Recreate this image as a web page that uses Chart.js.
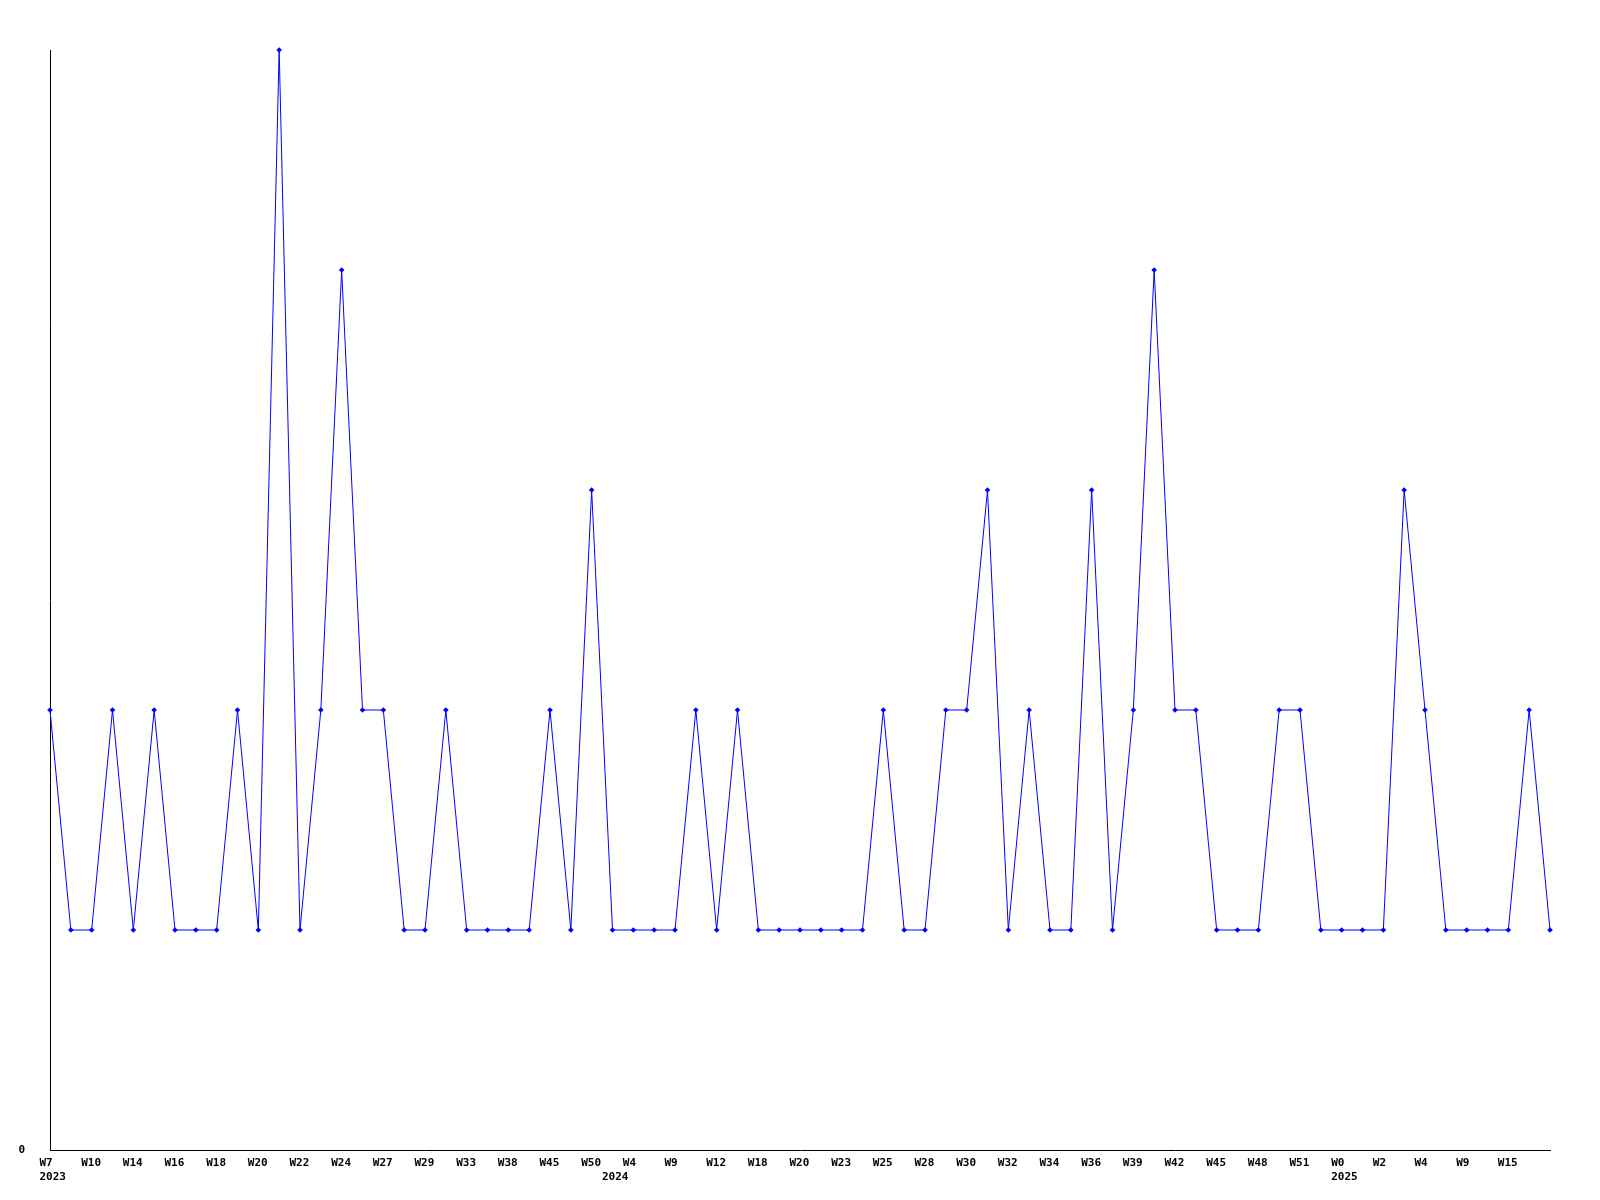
<!DOCTYPE html>
<html>
<head>
<meta charset="utf-8">
<script src="https://cdn.jsdelivr.net/npm/chart.js@4/dist/chart.umd.min.js"></script>
<style>
  body { margin: 0; background: #fff; }
</style>
</head>
<body>
<canvas id="chart" width="1600" height="1200"></canvas>
<script>
// week labels (only every other one is printed on the axis)
const weeks = [
  "W7", "W8", "W10", "W12", "W14", "W15", "W16", "W17", "W18", "W19",
  "W20", "W21", "W22", "W23", "W24", "W25", "W27", "W28", "W29", "W31",
  "W33", "W35", "W38", "W41", "W45", "W48", "W50", "W2", "W4", "W7",
  "W9", "W10", "W12", "W15", "W18", "W19", "W20", "W22", "W23", "W24",
  "W25", "W27", "W28", "W29", "W30", "W31", "W32", "W33", "W34", "W35",
  "W36", "W38", "W39", "W40", "W42", "W43", "W45", "W46", "W48", "W50",
  "W51", "W52", "W0", "W1", "W2", "W3", "W4", "W6", "W9", "W12",
  "W15", "W16", "W17"
];
// year shown under the first week of each year
const years = { 0: "2023", 27: "2024", 62: "2025" };
const counts = [
  2, 1, 1, 2, 1, 2, 1, 1, 1, 2,
  1, 5, 1, 2, 4, 2, 2, 1, 1, 2,
  1, 1, 1, 1, 2, 1, 3, 1, 1, 1,
  1, 2, 1, 2, 1, 1, 1, 1, 1, 1,
  2, 1, 1, 2, 2, 3, 1, 2, 1, 1,
  3, 1, 2, 4, 2, 2, 1, 1, 1, 2,
  2, 1, 1, 1, 1, 3, 2, 1, 1, 1,
  1, 2, 1
];

const tickFont = { family: "DejaVu Sans Mono", size: 11, weight: "bold" };

new Chart(document.querySelector("#chart"), {
  type: "line",
  data: {
    labels: weeks,
    datasets: [
      {
        data: counts,
        borderColor: "#0000ff",
        backgroundColor: "#0000ff",
        borderWidth: 1,
        pointStyle: "rectRot",
        pointRadius: 2.8,
        pointBorderWidth: 0,
        tension: 0,
        clip: false,
      },
    ],
  },
  options: {
    responsive: false,
    animation: false,
    layout: { padding: { top: 50, right: 50, left: 0, bottom: 0 } },
    plugins: { legend: { display: false }, tooltip: { enabled: false } },
    scales: {
      x: {
        offset: false,
        grid: { display: false, drawTicks: false },
        border: { display: true, color: "#000", width: 1 },
        afterFit: (s) => { s.height = 50; },
        ticks: {
          autoSkip: false,
          maxRotation: 0,
          minRotation: 0,
          align: "start",
          labelOffset: -10.5,
          padding: 7,
          color: "#000",
          font: tickFont,
          callback: function (value, index) {
            const last = index === weeks.length - 1;
            const wk = index % 2 === 0 && !last ? weeks[index] : "";
            const yr = years[index];
            if (yr) return [wk, yr];
            return wk;
          },
        },
      },
      y: {
        min: 0,
        max: 5,
        grid: { display: false, drawTicks: false },
        border: { display: true, color: "#000", width: 1 },
        afterFit: (s) => { s.width = 50; },
        ticks: {
          stepSize: 1,
          padding: 25,
          color: "#000",
          font: tickFont,
          callback: (v) => (v === 0 ? "0" : ""),
        },
      },
    },
  },
});
</script>
</body>
</html>
